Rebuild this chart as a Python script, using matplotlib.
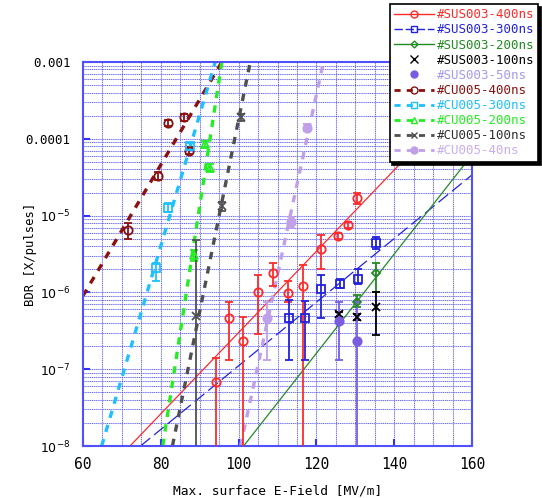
import numpy as np
import matplotlib
matplotlib.use("Agg")
import matplotlib.pyplot as plt
from matplotlib.lines import Line2D
from matplotlib.ticker import FixedLocator, FuncFormatter, NullFormatter

plt.rcParams['font.family'] = ['DejaVu Sans Mono', 'DejaVu Sans']
plt.rcParams['mathtext.fontset'] = 'dejavusans'

# ---------------- data ----------------
sus400_E = [94.3, 97.6, 101.2, 105.0, 108.9, 112.8, 116.5, 121.3, 125.6, 128.1, 130.3]
sus400_bdr = [6.9e-8, 4.6e-7, 2.3e-7, 1.0e-6, 1.8e-6, 9.8e-7, 1.2e-6, 3.7e-6, 5.5e-6, 7.5e-6, 1.7e-5]
sus400_hi = [1.4e-7, 7.6e-7, 4.8e-7, 1.7e-6, 2.4e-6, 1.4e-6, 2.3e-6, 5.6e-6, 6.0e-6, 8.2e-6, 2.0e-5]
sus400_lo = [1e-9, 1.3e-7, 1e-9, 2.9e-7, 1.2e-6, 7.6e-7, 1e-9, 2.0e-6, 5.0e-6, 6.9e-6, 1.4e-5]
sus400_fitE = [72.1, 160.0]
sus400_fitB = [1e-8, 4.5e-4]

sus300_E = [112.9, 117.0, 121.3, 126.1, 130.8, 135.4]
sus300_bdr = [4.7e-7, 4.7e-7, 1.1e-6, 1.3e-6, 1.5e-6, 4.4e-6]
sus300_hi = [7.9e-7, 7.7e-7, 1.7e-6, 1.5e-6, 2.0e-6, 5.3e-6]
sus300_lo = [1.3e-7, 1.3e-7, 4.7e-7, 1.15e-6, 1.3e-6, 3.7e-6]
sus300_fitE = [74.8, 160.0]
sus300_fitB = [1e-8, 3.4e-5]

sus200_E = [130.5, 135.4]
sus200_bdr = [7.6e-7, 1.8e-6]
sus200_hi = [9.3e-7, 2.4e-6]
sus200_lo = [6.5e-7, 1.0e-6]
sus200_fitE = [101.3, 160.0]
sus200_fitB = [1e-8, 6.2e-5]

sus100_E = [125.8, 130.5, 135.4]
sus100_bdr = [5.2e-7, 4.8e-7, 6.5e-7]
sus100_hi = [5.6e-7, 5.2e-7, 1.0e-6]
sus100_lo = [4.8e-7, 4.4e-7, 2.8e-7]

sus50_E = [125.8, 130.5]
sus50_bdr = [4.2e-7, 2.3e-7]
sus50_hi = [7.6e-7, 7.6e-7]
sus50_lo = [1.3e-7, 1e-9]

cu400_E = [71.6, 79.2, 81.9, 86.0, 87.3]
cu400_bdr = [6.5e-6, 3.3e-5, 1.6e-4, 1.9e-4, 7.0e-5]
cu400_hi = [8.1e-6, 3.7e-5, 1.75e-4, 2.1e-4, 7.8e-5]
cu400_lo = [4.9e-6, 2.9e-5, 1.45e-4, 1.7e-4, 6.3e-5]
cu400_fitE = [60.0, 95.7]
cu400_fitB = [9e-7, 1e-3]

cu300_E = [78.8, 81.9, 87.6]
cu300_bdr = [2.1e-6, 1.26e-5, 8.0e-5]
cu300_hi = [2.4e-6, 1.45e-5, 8.8e-5]
cu300_lo = [1.4e-6, 1.1e-5, 7.2e-5]
cu300_fitE = [64.8, 94.0]
cu300_fitB = [1e-8, 1e-3]

cu200_E = [88.6, 91.4, 92.7]
cu200_bdr = [3.1e-6, 8.5e-5, 4.2e-5]
cu200_hi = [3.6e-6, 9.3e-5, 4.7e-5]
cu200_lo = [2.6e-6, 7.8e-5, 3.8e-5]
cu200_fitE = [80.5, 95.7]
cu200_fitB = [1e-8, 1e-3]

cu100_E = [89.1, 95.7, 100.5]
cu100_bdr = [4.9e-7, 1.33e-5, 1.9e-4]
cu100_hi = [4.8e-6, 1.5e-5, 2.1e-4]
cu100_lo = [1e-9, 1.15e-5, 1.7e-4]
cu100_fitE = [83.0, 103.0]
cu100_fitB = [1e-8, 1e-3]

cu40_E = [107.3, 113.5, 117.5]
cu40_bdr = [4.7e-7, 8.3e-6, 1.4e-4]
cu40_hi = [7.6e-7, 9.5e-6, 1.55e-4]
cu40_lo = [1.3e-7, 7.0e-6, 1.25e-4]
cu40_fitE = [100.5, 121.8]
cu40_fitB = [1e-8, 1e-3]

labels = ['#SUS003-400ns', '#SUS003-300ns', '#SUS003-200ns', '#SUS003-100ns', '#SUS003-50ns',
          '#CU005-400ns', '#CU005-300ns', '#CU005-200ns', '#CU005-100ns', '#CU005-40ns']

# ---------------- styles ----------------
c_sus400 = '#ff2a2a'
c_sus300 = '#2222dd'
c_sus200 = '#228b22'
c_sus100 = '#000000'
c_sus50 = '#7a5ce0'
c_cu400 = '#8b1010'
c_cu300 = '#1ec0ff'
c_cu200 = '#22ee22'
c_cu100 = '#505050'
c_cu40 = '#c0a0e8'
text_colors = [c_sus400, c_sus300, c_sus200, '#000000', '#a898f0',
               c_cu400, c_cu300, c_cu200, '#303030', '#c8aef0']

fig = plt.figure(figsize=(5.42, 4.98), dpi=100)
ax = fig.add_axes([0.153, 0.1044, 0.718, 0.771])
ax.set_yscale('log')
ax.set_xlim(60, 160)
ax.set_ylim(1e-8, 1e-3)

# grid
gl = dict(color='#d6d6ff', lw=0.8, zorder=0)
gd = dict(color='#3a3af0', lw=0.55, ls=(0, (1.2, 1.6)), zorder=0.5)
for v in np.arange(65, 160, 5):
    ax.axvline(v, **gl)
    ax.axvline(v, **gd)
for dec in range(-8, -3):
    for m in range(1, 10):
        v = m * 10.0 ** dec
        if 1e-8 < v < 1e-3:
            ax.axhline(v, **gl)
            ax.axhline(v, **gd)

def eb(E, B, lo, hi, color, marker, mfc='none', ms=6, lw=1.3):
    E = np.array(E); B = np.array(B)
    yerr = [B - np.array(lo), np.array(hi) - B]
    ax.errorbar(E, B, yerr=yerr, fmt='none', ecolor=color, elinewidth=lw, capsize=3, capthick=lw, zorder=3)
    ax.plot(E, B, ls='none', marker=marker, mfc=mfc, mec=color, color=color, ms=ms, mew=1.3, zorder=4)

# SUS fits
ax.plot(sus400_fitE, sus400_fitB, color=c_sus400, lw=0.9, zorder=2)
ax.plot(sus300_fitE, sus300_fitB, color=c_sus300, lw=0.9, ls=(0, (10, 4)), zorder=2)
ax.plot(sus200_fitE, sus200_fitB, color=c_sus200, lw=0.9, zorder=2)
# CU fits
dash = (0, (2.2, 2.2))
ax.plot(cu400_fitE, cu400_fitB, color=c_cu400, lw=2.4, ls=dash, zorder=2)
ax.plot(cu300_fitE, cu300_fitB, color=c_cu300, lw=2.4, ls=dash, zorder=2)
ax.plot(cu200_fitE, cu200_fitB, color=c_cu200, lw=2.4, ls=dash, zorder=2)
ax.plot(cu100_fitE, cu100_fitB, color=c_cu100, lw=2.4, ls=dash, zorder=2)
ax.plot(cu40_fitE, cu40_fitB, color=c_cu40, lw=2.4, ls=dash, zorder=2)

eb(sus400_E, sus400_bdr, sus400_lo, sus400_hi, c_sus400, 'o')
eb(sus300_E, sus300_bdr, sus300_lo, sus300_hi, c_sus300, 's')
eb(sus200_E, sus200_bdr, sus200_lo, sus200_hi, c_sus200, 'D', ms=4)
eb(sus100_E, sus100_bdr, sus100_lo, sus100_hi, c_sus100, 'x', ms=6)
eb(sus50_E, sus50_bdr, sus50_lo, sus50_hi, c_sus50, 'o', mfc=c_sus50)
eb(cu400_E, cu400_bdr, cu400_lo, cu400_hi, c_cu400, 'o')
eb(cu300_E, cu300_bdr, cu300_lo, cu300_hi, c_cu300, 's')
eb(cu200_E, cu200_bdr, cu200_lo, cu200_hi, c_cu200, '^')
eb(cu100_E, cu100_bdr, cu100_lo, cu100_hi, c_cu100, 'x')
eb(cu40_E, cu40_bdr, cu40_lo, cu40_hi, c_cu40, 'o', mfc=c_cu40)

# axes styling
for s in ax.spines.values():
    s.set_color('#5050ff')
    s.set_linewidth(1.5)
ax.xaxis.set_major_locator(FixedLocator([60, 80, 100, 120, 140, 160]))
ax.yaxis.set_major_locator(FixedLocator([1e-8, 1e-7, 1e-6, 1e-5, 1e-4, 1e-3]))
ax.yaxis.set_minor_locator(FixedLocator([]))
ax.yaxis.set_minor_formatter(NullFormatter())

def yfmt(v, pos):
    e = int(round(np.log10(v)))
    if e == -3:
        return '0.001'
    if e == -4:
        return '0.0001'
    return r'$10^{%d}$' % e
ax.yaxis.set_major_formatter(FuncFormatter(yfmt))
ax.tick_params(axis='both', which='major', direction='in', length=5, width=1.5,
               color='#3030ff', labelsize=9, pad=9)
ax.tick_params(axis='x', labelsize=10.5, pad=8)
ax.set_xlabel('Max. surface E-Field [MV/m]', fontsize=9.3, labelpad=9)
ax.set_ylabel('BDR [X/pulses]', fontsize=8.8)
ax.yaxis.set_label_coords(-0.118, 0.5)

# legend
handles = [
    Line2D([], [], color=c_sus400, lw=1, marker='o', mfc='none', mec=c_sus400, ms=5),
    Line2D([], [], color=c_sus300, lw=1, ls=(0, (6, 2)), marker='s', mfc='none', mec=c_sus300, ms=5),
    Line2D([], [], color=c_sus200, lw=1, marker='D', mfc='none', mec=c_sus200, ms=3.5),
    Line2D([], [], color='k', ls='none', marker='x', ms=6),
    Line2D([], [], color=c_sus50, ls='none', marker='o', mfc=c_sus50, ms=5),
    Line2D([], [], color=c_cu400, lw=2, ls=dash, marker='o', mfc='none', mec=c_cu400, ms=5),
    Line2D([], [], color=c_cu300, lw=2, ls=dash, marker='s', mfc='none', mec=c_cu300, ms=5),
    Line2D([], [], color=c_cu200, lw=2, ls=dash, marker='^', mfc='none', mec=c_cu200, ms=5),
    Line2D([], [], color=c_cu100, lw=2, ls=dash, marker='x', mec=c_cu100, ms=5),
    Line2D([], [], color=c_cu40, lw=2, ls=dash, marker='o', mfc=c_cu40, mec=c_cu40, ms=5),
]
leg = fig.legend(handles, labels, loc='upper right', bbox_to_anchor=(0.998, 0.997),
                 fontsize=9, frameon=True, fancybox=False, handlelength=3.2,
                 labelspacing=0.17, borderpad=0.35, handletextpad=0.2, borderaxespad=0.2,
                 shadow={'color': 'black', 'alpha': 1.0})
leg.get_frame().set_edgecolor('black')
leg.get_frame().set_linewidth(1.2)
for t, c in zip(leg.get_texts(), text_colors):
    t.set_color(c)
leg.set_zorder(10)

fig.savefig('out.png', dpi=100)
